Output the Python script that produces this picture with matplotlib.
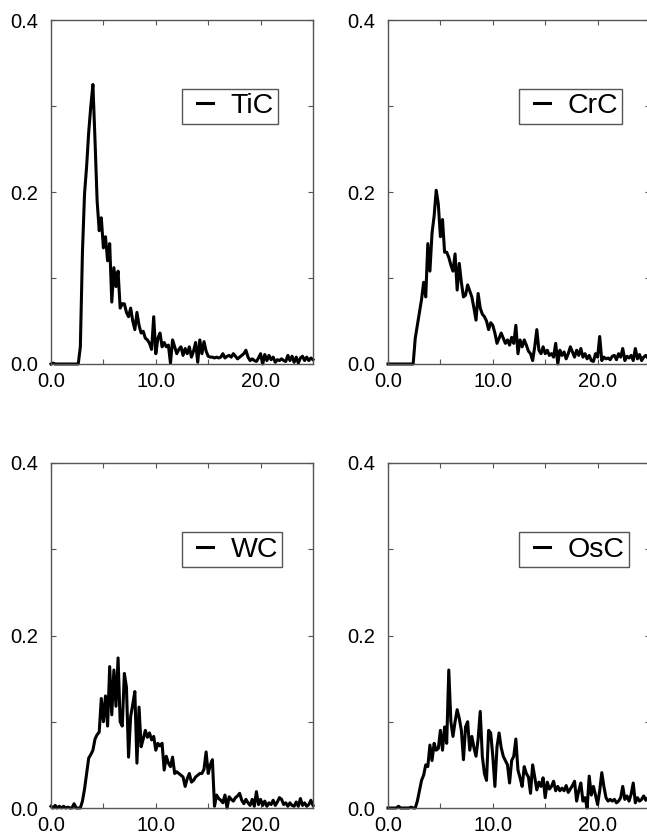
import matplotlib
matplotlib.use("Agg")
import matplotlib.pyplot as plt
from matplotlib.legend_handler import HandlerLine2D
import numpy as np

plt.rcParams['font.family'] = ['Liberation Sans', 'DejaVu Sans']

# energy grid (step 0.2)
x_grid = np.round(np.arange(0, 25.01, 0.2), 1)

tic = [0, 0.001, 0, 0, 0, 0, 0, 0, 0, 0,
       0, 0, 0, 0, 0.02, 0.13, 0.198, 0.23, 0.27, 0.30,
       0.325, 0.26, 0.19, 0.155, 0.17, 0.135, 0.148, 0.12, 0.14, 0.072,
       0.112, 0.09, 0.108, 0.065, 0.07, 0.07, 0.06, 0.055, 0.065, 0.05,
       0.04, 0.06, 0.045, 0.036, 0.038, 0.03, 0.028, 0.024, 0.017, 0.055,
       0.012, 0.03, 0.036, 0.02, 0.025, 0.02, 0.022, 0.001, 0.028, 0.02,
       0.012, 0.017, 0.02, 0.01, 0.018, 0.012, 0.02, 0.008, 0.015, 0.025,
       0.002, 0.028, 0.012, 0.026, 0.015, 0.009, 0.008, 0.008, 0.007, 0.008,
       0.007, 0.008, 0.012, 0.007, 0.009, 0.01, 0.008, 0.012, 0.009, 0.006,
       0.008, 0.01, 0.012, 0.016, 0.008, 0.004, 0.006, 0.004, 0.003, 0.007,
       0.012, 0.0, 0.011, 0.004, 0.01, 0.005, 0.008, 0.002, 0.005, 0.004,
       0.006, 0.004, 0.003, 0.01, 0.004, 0.009, 0.002, 0.008, 0.001, 0.007,
       0.009, 0.004, 0.008, 0.004, 0.007, 0.005]

crc = [0, 0, 0, 0, 0, 0, 0, 0, 0, 0,
       0, 0, 0, 0.03, 0.045, 0.06, 0.075, 0.095, 0.078, 0.14,
       0.108, 0.152, 0.172, 0.202, 0.186, 0.148, 0.168, 0.13, 0.13, 0.124,
       0.115, 0.108, 0.128, 0.086, 0.117, 0.095, 0.078, 0.08, 0.092, 0.085,
       0.078, 0.065, 0.051, 0.082, 0.065, 0.058, 0.055, 0.05, 0.04, 0.048,
       0.045, 0.036, 0.024, 0.03, 0.036, 0.03, 0.024, 0.028, 0.022, 0.031,
       0.024, 0.045, 0.012, 0.028, 0.02, 0.028, 0.022, 0.015, 0.012, 0.004,
       0.02, 0.04, 0.016, 0.012, 0.02, 0.012, 0.016, 0.01, 0.012, 0.008,
       0.024, 0.0, 0.016, 0.01, 0.014, 0.006, 0.012, 0.02, 0.014, 0.008,
       0.016, 0.01, 0.018, 0.008, 0.012, 0.006, 0.01, 0.004, 0.003, 0.012,
       0.008, 0.032, 0.004, 0.008, 0.006, 0.007, 0.005, 0.009, 0.01, 0.005,
       0.012, 0.008, 0.018, 0.004, 0.009, 0.007, 0.01, 0.004, 0.018, 0.006,
       0.011, 0.004, 0.008, 0.01, 0.007, 0.008]

wc = [0.002, 0, 0.003, 0, 0.002, 0, 0.002, 0, 0.001, 0,
      0, 0.005, 0, 0, 0, 0.008, 0.022, 0.04, 0.058, 0.062,
      0.067, 0.08, 0.085, 0.088, 0.127, 0.1, 0.13, 0.095, 0.164, 0.108,
      0.16, 0.118, 0.174, 0.1, 0.095, 0.156, 0.14, 0.059, 0.106, 0.12,
      0.135, 0.052, 0.117, 0.071, 0.08, 0.09, 0.082, 0.087, 0.079, 0.083,
      0.067, 0.075, 0.072, 0.075, 0.044, 0.06, 0.052, 0.048, 0.059, 0.04,
      0.042, 0.04, 0.038, 0.036, 0.025, 0.034, 0.04, 0.03, 0.032, 0.036,
      0.038, 0.04, 0.04, 0.045, 0.065, 0.04, 0.05, 0.056, 0.002, 0.015,
      0.011, 0.009, 0.006, 0.015, 0.0, 0.013, 0.01, 0.008, 0.012, 0.014,
      0.017, 0.009, 0.005, 0.01, 0.006, 0.003, 0.01, 0.002, 0.019, 0.004,
      0.01, 0.003, 0.008, 0.002, 0.006, 0.004, 0.009, 0.003, 0.007, 0.012,
      0.01, 0.004, 0.006, 0.002, 0.006, 0.003, 0.002, 0.007, 0.002, 0.011,
      0.003, 0.006, 0.002, 0.004, 0.009, 0.003]

osc = [0, 0, 0, 0, 0, 0.002, 0, 0, 0, 0,
       0, 0.001, 0, 0, 0.008, 0.02, 0.032, 0.038, 0.05, 0.048,
       0.073, 0.055, 0.075, 0.067, 0.069, 0.09, 0.067, 0.094, 0.075, 0.16,
       0.1, 0.083, 0.1, 0.114, 0.104, 0.09, 0.056, 0.094, 0.1, 0.067,
       0.083, 0.07, 0.06, 0.08, 0.112, 0.06, 0.04, 0.032, 0.09, 0.087,
       0.06, 0.025, 0.071, 0.087, 0.07, 0.06, 0.055, 0.05, 0.029, 0.055,
       0.06, 0.08, 0.044, 0.035, 0.025, 0.048, 0.04, 0.036, 0.017, 0.05,
       0.036, 0.021, 0.03, 0.025, 0.035, 0.012, 0.03, 0.022, 0.025, 0.031,
       0.02, 0.025, 0.02, 0.023, 0.02, 0.026, 0.018, 0.022, 0.026, 0.031,
       0.008, 0.02, 0.029, 0.008, 0.012, 0.0, 0.037, 0.015, 0.025, 0.015,
       0.004, 0.02, 0.041, 0.025, 0.012, 0.008, 0.01, 0.008, 0.01, 0.006,
       0.008, 0.012, 0.025, 0.01, 0.014, 0.008, 0.016, 0.029, 0.006, 0.012,
       0.008, 0.01, 0.014, 0.009, 0.012, 0.014]

names = ["TiC", "CrC", "WC", "OsC"]
series = [tic, crc, wc, osc]

x_ticks = [0, 5, 10, 15, 20, 25]
x_labels = ["0.0", "", "10.0", "", "20.0", ""]
y_ticks = [0, 0.1, 0.2, 0.3, 0.4]
y_labels = ["0.0", "", "0.2", "", "0.4"]

W, H = 647, 834
fig = plt.figure(figsize=(W / 100, H / 100), dpi=100)

# axes boxes in pixels: left, top, width, height
boxes = [(51, 20, 262, 344), (388, 20, 262, 344),
         (51, 463, 262, 345), (388, 463, 262, 345)]

spine_col = '#555555'
for name, y, (l, t, w, h) in zip(names, series, boxes):
    ax = fig.add_axes([l / W, 1 - (t + h) / H, w / W, h / H])
    line, = ax.plot(x_grid, y, color='black', lw=2.2, label=name,
                    clip_on=False)
    ax.set_xlim(0, 25)
    ax.set_ylim(0, 0.4)
    ax.set_xticks(x_ticks)
    ax.set_xticklabels(x_labels)
    ax.set_yticks(y_ticks)
    ax.set_yticklabels(y_labels)
    ax.tick_params(direction='in', length=3.5, width=0.8, color=spine_col,
                   top=True, right=True, labelsize=14.5)
    ax.tick_params(axis='x', pad=6)
    ax.tick_params(axis='y', pad=9)
    for s in ax.spines.values():
        s.set_color(spine_col)
        s.set_linewidth(1.0)
    leg = ax.legend(loc='upper left', bbox_to_anchor=(0.5, 0.799),
                    borderaxespad=0, fontsize=20.5, handlelength=0.95,
                    handletextpad=0.6, borderpad=0.15, fancybox=False,
                    framealpha=1, edgecolor=spine_col,
                    handler_map={line: HandlerLine2D(xpad=0.39)})
    leg.get_frame().set_linewidth(1.0)
    leg.get_lines()[0].set_linewidth(2.2)

fig.savefig("out.png", dpi=100)
